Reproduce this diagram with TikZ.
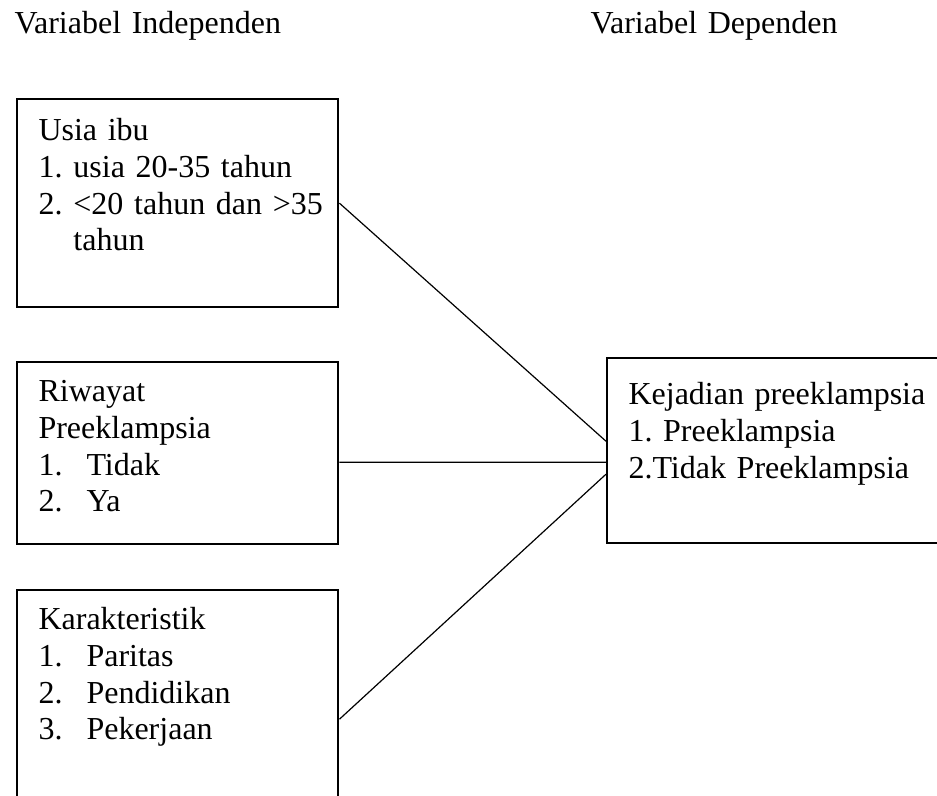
\documentclass[tikz,border=0pt]{standalone}
\usepackage{fontspec}
\setmainfont{Liberation Serif}
\frenchspacing
\begin{document}
\begin{tikzpicture}[
  x=0.375pt, y=-0.375pt,
  box/.style={draw, line width=0.9pt, inner sep=0, anchor=north west},
  txt/.style={anchor=base west, inner sep=0, align=left, text width=#1,
    font=\fontsize{12}{13.7}\selectfont},
  txt/.default=115pt,
  link/.style={line width=0.45pt}
]
\useasboundingbox (0,0) rectangle (937,796);
\clip (0,0) rectangle (937,796);

\node[txt=150pt] (headIndep) at (14,34) {Variabel Independen};
\node[txt=150pt] (headDep) at (590,34) {Variabel Dependen};

\node[box, minimum width=120.4pt, minimum height=78pt]    (usia)   at (16,98)  {};
\node[box, minimum width=120.4pt, minimum height=68.25pt] (riwayat) at (16,361) {};
\node[box, minimum width=120.4pt, minimum height=96.75pt] (karakter) at (16,589) {};
\node[box, minimum width=127pt,   minimum height=69.4pt]  (kejadian) at (606,357) {};

\node[txt] (usiaText) at (38,141) {Usia ibu\\
  \makebox[13.1pt][l]{1.}usia 20-35 tahun\\
  \makebox[13.1pt][l]{2.}<20 tahun dan >35\\
  \hspace*{13.1pt}tahun};
\node[txt] (riwayatText) at (38,402) {Riwayat\\
  Preeklampsia\\
  \makebox[18pt][l]{1.}Tidak\\
  \makebox[18pt][l]{2.}Ya};
\node[txt] (karakterText) at (38,630) {Karakteristik\\
  \makebox[18pt][l]{1.}Paritas\\
  \makebox[18pt][l]{2.}Pendidikan\\
  \makebox[18pt][l]{3.}Pekerjaan};
\node[txt=120pt] (kejadianText) at (628,405) {Kejadian preeklampsia\\
  1. Preeklampsia\\
  2.Tidak Preeklampsia};

\draw[link] (usia.east) -- ([yshift=3.56pt]kejadian.west);
\draw[link] ([yshift=-3.4pt]riwayat.east) -- ([yshift=-4.3pt]kejadian.west);
\draw[link] (karakter.east) -- ([yshift=-8.8pt]kejadian.west);
\end{tikzpicture}
\end{document}
